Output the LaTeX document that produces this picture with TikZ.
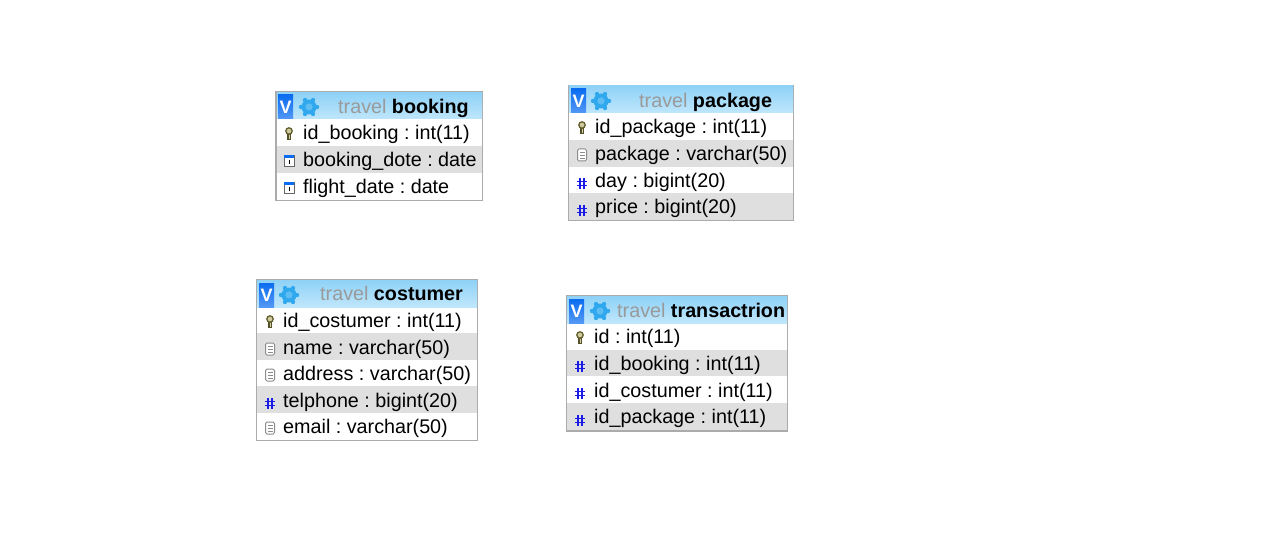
\documentclass[tikz,border=0pt]{standalone}
\usepackage{fontspec}
\setmainfont{Liberation Sans}
\usetikzlibrary{positioning}
\definecolor{framegray}{HTML}{ABABAB}
\definecolor{rowgray}{HTML}{DFDFDF}
\definecolor{headtop}{HTML}{8FD2F7}
\definecolor{headbot}{HTML}{BFE6FB}
\definecolor{vblue}{HTML}{0A6CF0}
\definecolor{gearblue}{HTML}{2FA8EE}
\definecolor{hashblue}{HTML}{1A1AE6}
\definecolor{travelgray}{HTML}{9A9A9A}
\definecolor{keyolive}{HTML}{A8A050}
\frenchspacing
\tikzset{
	field/.style = {anchor=base west, inner sep=0pt, font=\fontsize{19.75}{20}\selectfont, text=black},
	tabletitle/.style = {anchor=base west, inner sep=0pt, font=\fontsize{19.75}{20}\selectfont},
	vmark/.style = {anchor=center, inner sep=0pt, text=white, font=\fontsize{18}{18}\selectfont\bfseries},
	frame/.style = {draw=framegray, line width=1.8pt, fill=white},
	headbar/.style = {top color=headtop, bottom color=headbot, draw=none},
	vbox/.style = {top color=vblue, bottom color=vblue!70!white, draw=none}
}
% small icons in front of the fields
\newcommand{\keyicon}[2]{
	\draw [keyolive!50!black, line width=3.4pt] (#1,#2-1) -- (#1,#2+6);
	\draw [keyolive!60!black, line width=1.3pt, fill=keyolive!55!white] (#1,#2-3) circle (3.2);
	\draw [keyolive!50!white, line width=1pt] (#1,#2+1) -- (#1,#2+5);
}
\newcommand{\dateicon}[2]{
	\draw [black!60, line width=1pt, fill=white] (#1-5,#2-5) rectangle (#1+5,#2+6);
	\fill [vblue] (#1-5,#2-5.5) rectangle (#1+5,#2-2.5);
	\draw [black, line width=1pt] (#1,#2-1) -- (#1,#2+3);
}
\newcommand{\texticon}[2]{
	\draw [black!45, line width=1pt, fill=white, rounded corners=1.5pt] (#1-4.5,#2-6) rectangle (#1+4.5,#2+6);
	\foreach \ly in {-3,0,3} \draw [black!45, line width=.8pt] (#1-2.5,#2+\ly) -- (#1+2.5,#2+\ly);
}
\newcommand{\hashicon}[2]{
	\draw [hashblue, line width=1.7pt] (#1-2.2,#2-5) -- (#1-2.2,#2+6) (#1+2.2,#2-5) -- (#1+2.2,#2+6) (#1-5,#2-1.5) -- (#1+5,#2-1.5) (#1-5,#2+2.5) -- (#1+5,#2+2.5);
}
\newcommand{\gearicon}[2]{
	\fill [gearblue] (#1,#2) circle (7.5);
	\foreach \ang in {0,60,...,300} \fill [gearblue] (#1,#2) ++(\ang:8) circle (2.2);
	\fill [headtop!50!gearblue] (#1,#2) circle (3.6);
}
\begin{document}
\begin{tikzpicture}[x=1pt, y=-1pt]
	\useasboundingbox [fill=white] (0,0) rectangle (1273,553);

	% booking
	\draw [frame] (276,92) rectangle (482.5,200.5);
	\fill [rowgray] (277,146) rectangle (482,173);
	\shade [headbar] (277,93) rectangle (482,119);
	\shade [vbox] (278,95) rectangle (293,119);
	\node [vmark] (vbooking) at (285.5,107.5) {V};
	\gearicon{309}{107}
	\node [tabletitle] (tbooking) at (338,114) {\textcolor{travelgray}{travel} \textbf{booking}};
	\keyicon{289}{134}
	\node [field] (bookingid) at (303,140) {id\_booking : int(11)};
	\dateicon{289}{161}
	\node [field] (bookingdote) at (303,167) {booking\_dote : date};
	\dateicon{289}{188}
	\node [field] (bookingflight) at (303,194) {flight\_date : date};

	% package
	\draw [frame] (568.5,85.5) rectangle (793.5,220.5);
	\fill [rowgray] (569,140) rectangle (793,167);
	\fill [rowgray] (569,193) rectangle (793,220);
	\shade [headbar] (569,86) rectangle (793,113);
	\shade [vbox] (571,89) rectangle (586,113);
	\node [vmark] (vpackage) at (578.5,101.5) {V};
	\gearicon{601}{101}
	\node [tabletitle] (tpackage) at (639,108) {\textcolor{travelgray}{travel} \textbf{package}};
	\keyicon{582}{128}
	\node [field] (packageid) at (595,134) {id\_package : int(11)};
	\texticon{582}{155}
	\node [field] (packagename) at (595,161) {package : varchar(50)};
	\hashicon{582}{183}
	\node [field] (packageday) at (595,188) {day : bigint(20)};
	\hashicon{582}{210}
	\node [field] (packageprice) at (595,214) {price : bigint(20)};

	% costumer
	\draw [frame] (256.5,279.5) rectangle (477.5,440.5);
	\fill [rowgray] (257,333) rectangle (477,360);
	\fill [rowgray] (257,386) rectangle (477,413);
	\shade [headbar] (257,280) rectangle (477,307);
	\shade [vbox] (259,283) rectangle (274,307);
	\node [vmark] (vcostumer) at (266.5,295.5) {V};
	\gearicon{289}{295}
	\node [tabletitle] (tcostumer) at (320,300) {\textcolor{travelgray}{travel} \textbf{costumer}};
	\keyicon{270}{322}
	\node [field] (costumerid) at (283,327) {id\_costumer : int(11)};
	\texticon{270}{349}
	\node [field] (costumername) at (283,354) {name : varchar(50)};
	\texticon{270}{375}
	\node [field] (costumeraddress) at (283,380) {address : varchar(50)};
	\hashicon{270}{403}
	\node [field] (costumertel) at (283,407) {telphone : bigint(20)};
	\texticon{270}{428}
	\node [field] (costumeremail) at (283,433) {email : varchar(50)};

	% transactrion
	\draw [frame] (566.5,295.5) rectangle (787.5,431);
	\fill [rowgray] (567,350) rectangle (787,376);
	\fill [rowgray] (567,403) rectangle (787,430);
	\shade [headbar] (567,296) rectangle (787,323);
	\shade [vbox] (569,299) rectangle (584,323);
	\node [vmark] (vtrans) at (576.5,311.5) {V};
	\gearicon{600}{311}
	\node [tabletitle] (ttrans) at (617,317) {\textcolor{travelgray}{travel} \textbf{transactrion}};
	\keyicon{580}{338}
	\node [field] (transid) at (594,343) {id : int(11)};
	\hashicon{580}{366}
	\node [field] (transbooking) at (594,370) {id\_booking : int(11)};
	\hashicon{580}{393}
	\node [field] (transcostumer) at (594,397) {id\_costumer : int(11)};
	\hashicon{580}{420}
	\node [field] (transpackage) at (594,423) {id\_package : int(11)};
\end{tikzpicture}
\end{document}
